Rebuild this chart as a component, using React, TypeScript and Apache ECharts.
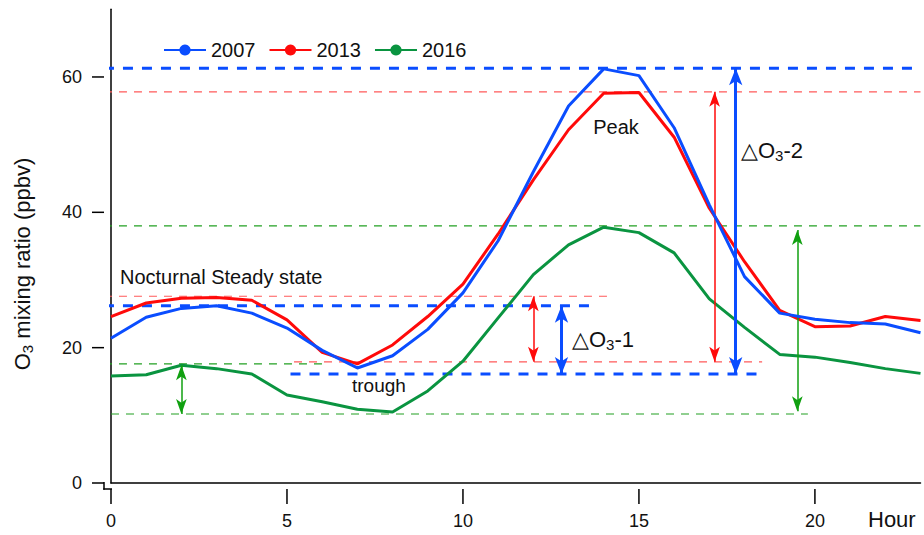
import React, { useEffect, useRef } from "react";
import * as echarts from "echarts";

const hours = [0, 1, 2, 3, 4, 5, 6, 7, 8, 9, 10, 11, 12, 13, 14, 15, 16, 17, 18, 19, 20, 21, 22, 23];
const o3_2007 = [21.4, 24.5, 25.8, 26.2, 25.1, 22.9, 19.6, 17.0, 18.8, 22.7, 28.1, 35.8, 46.0, 55.7, 61.2, 60.2, 52.5, 41.1, 30.5, 25.1, 24.2, 23.7, 23.5, 22.2];
const o3_2013 = [24.6, 26.6, 27.3, 27.4, 27.0, 24.1, 19.3, 17.6, 20.4, 24.6, 29.4, 36.8, 44.8, 52.2, 57.6, 57.7, 51.1, 40.6, 32.7, 25.5, 23.1, 23.2, 24.6, 24.0];
const o3_2016 = [15.8, 16.0, 17.4, 16.9, 16.1, 13.0, 12.0, 10.9, 10.5, 13.6, 18.0, 24.4, 30.8, 35.2, 37.8, 37.0, 34.0, 27.2, 23.0, 19.0, 18.6, 17.8, 16.9, 16.2];

const xTicks = [0, 5, 10, 15, 20];
const yTicks = [0, 20, 40, 60];

// reference levels [value, fromHour, toHour]
const levels2007 = [[61.3, -0.2, 23], [26.2, -0.2, 13.8], [16.1, 5.1, 18.5]];
const levels2013 = [[57.8, -0.2, 23], [27.6, -0.2, 14.2], [17.9, 5.2, 18.5]];
const levels2016 = [[38.0, -0.2, 23], [17.6, -0.2, 6.0], [10.2, 0.0, 19.8]];

// difference arrows [hour, top, bottom]
const arrows2007 = [[12.8, 26.2, 16.1], [17.75, 61.3, 16.1]];
const arrows2013 = [[12.0, 27.6, 17.9], [17.15, 57.8, 17.9]];
const arrows2016 = [[2.0, 17.4, 10.2], [19.5, 37.4, 10.6]];

const FONT = "'Liberation Sans', Arial, sans-serif";
const BLUE = "#0a4dff";
const RED = "#ff0a0a";
const GREEN = "#0a9440";
const X_OFF = 6;
const Y_OFF = 7;

function levelSeries(levels: number[][], color: string, width: number, dash: number[]) {
  return levels.map(([v, a, b], i) => ({
    name: "lvl-" + color + i,
    type: "line",
    data: [[a, v], [b, v]],
    symbol: "none",
    silent: true,
    clip: false,
    z: 2,
    lineStyle: { color, width, type: dash },
    emphasis: { disabled: true },
  }));
}

function arrowMarks(arrows: number[][], color: string, arrowW: number, headSize: number[]) {
  return {
    silent: true,
    animation: false,
    label: { show: false },
    emphasis: { disabled: true },
    symbol: ["arrow", "arrow"],
    symbolSize: headSize,
    lineStyle: { color, width: arrowW, type: "solid" },
    data: arrows.map(([h, t, bt]) => [{ coord: [h, t] }, { coord: [h, bt] }]),
  };
}

const tickFill = { fill: "#000" };

const subText = (x: number, y: number, label: string) => ({
  type: "text", x, y,
  style: {
    text: "{a|△O}{s|3}{a|" + label + "}", verticalAlign: "middle",
    rich: { a: { fontSize: 22, fontFamily: FONT, fill: "#111" }, s: { fontSize: 15, fontFamily: FONT, fill: "#111", padding: [10, 0, 0, 0] } },
  },
});

const texts: any[] = [
  {
    type: "text", x: 22, y: 264, rotation: Math.PI / 2,
    style: {
      text: "{a|O}{s|3}{a| mixing ratio (ppbv)}",
      align: "center", verticalAlign: "middle",
      rich: {
        a: { fontSize: 22, fontFamily: FONT, fill: "#111" },
        s: { fontSize: 15, fontFamily: FONT, fill: "#111", padding: [10, 0, 0, 0] },
      },
    },
  },
  { type: "text", x: 868, y: 519, style: { text: "Hour", fontSize: 22, fontFamily: FONT, fill: "#111", verticalAlign: "middle" } },
  { type: "text", x: 616, y: 127, style: { text: "Peak", fontSize: 20, fontFamily: FONT, fill: "#111", align: "center", verticalAlign: "middle" } },
  { type: "text", x: 120, y: 277, style: { text: "Nocturnal Steady state", fontSize: 20, fontFamily: FONT, fill: "#111", verticalAlign: "middle" } },
  { type: "text", x: 352, y: 385, style: { text: "trough", fontSize: 19, fontFamily: FONT, fill: "#111", verticalAlign: "middle" } },
  subText(572, 339, "-1"),
  subText(741, 150, "-2"),
];

export default function App() {
  const ref = useRef<HTMLDivElement>(null);
  useEffect(() => {
    if (!ref.current) return;
    const chart = echarts.init(ref.current, null, { renderer: "svg" });
    const mk = (vals: number[]) => hours.map((h, i) => [h, vals[i]]);
    chart.setOption({
      animation: false,
      backgroundColor: "#ffffff",
      textStyle: { fontFamily: FONT },
      grid: { left: 111, right: 3.5, top: 9.3, bottom: 52 },
      legend: {
        data: ["2007", "2013", "2016"],
        left: 158,
        top: 35,
        itemWidth: 42,
        itemHeight: 14,
        itemGap: 13,
        textStyle: { fontSize: 20, color: "#111", fontFamily: FONT },
      },
      xAxis: {
        type: "value",
        min: 0,
        max: 23,
        interval: 5,
        offset: X_OFF,
        axisLine: { show: true, lineStyle: { color: "#000", width: 1.5 } },
        axisTick: { show: false },
        axisLabel: { customValues: xTicks, fontSize: 18, color: "#111", margin: 23, fontFamily: FONT },
        splitLine: { show: false },
      },
      yAxis: {
        type: "value",
        min: 0,
        max: 70,
        interval: 20,
        offset: Y_OFF,
        axisLine: { show: true, lineStyle: { color: "#000", width: 1.5 } },
        axisTick: { show: false },
        axisLabel: { customValues: yTicks, fontSize: 18, color: "#111", margin: 22, fontFamily: FONT },
        splitLine: { show: false },
      },
      series: [
        {
          name: "2007", type: "line", data: mk(o3_2007), symbol: "circle", symbolSize: 12, showSymbol: false,
          color: BLUE, lineStyle: { width: 3, color: BLUE }, clip: false, z: 5,
          markLine: arrowMarks(arrows2007, BLUE, 3, [10, 17]),
        },
        {
          name: "2013", type: "line", data: mk(o3_2013), symbol: "circle", symbolSize: 12, showSymbol: false,
          color: RED, lineStyle: { width: 3, color: RED }, clip: false, z: 4,
          markLine: arrowMarks(arrows2013, RED, 1.5, [8, 15]),
        },
        {
          name: "2016", type: "line", data: mk(o3_2016), symbol: "circle", symbolSize: 12, showSymbol: false,
          color: GREEN, lineStyle: { width: 3, color: GREEN }, clip: false, z: 3,
          markLine: arrowMarks(arrows2016, "#10a010", 1.5, [8, 15]),
        },
        ...levelSeries(levels2007, BLUE, 3, [10, 9]),
        ...levelSeries(levels2013, "#ff5a5a", 1.2, [8, 7]),
        ...levelSeries(levels2016, "#22a022", 1.2, [8, 7]),
      ],
      graphic: texts,
    });

    // axis ticks placed through the chart's own scales
    const tickEls: any[] = [];
    const o = chart.convertToPixel({ gridIndex: 0 }, [0, 0]) as number[];
    xTicks.forEach((v) => {
      const p = chart.convertToPixel({ gridIndex: 0 }, [v, 0]) as number[];
      tickEls.push({ type: "rect", silent: true, shape: { x: p[0] - 0.75, y: p[1] + X_OFF, width: 1.5, height: 15 }, style: tickFill });
    });
    yTicks.forEach((v) => {
      const p = chart.convertToPixel({ gridIndex: 0 }, [0, v]) as number[];
      tickEls.push({ type: "rect", silent: true, shape: { x: p[0] - Y_OFF - 12, y: p[1] - 0.75, width: 12, height: 1.5 }, style: tickFill });
    });
    tickEls.push({ type: "rect", silent: true, shape: { x: o[0] - Y_OFF - 0.75, y: o[1] - 1, width: 1.5, height: X_OFF + 1.75 }, style: tickFill });
    tickEls.push({ type: "rect", silent: true, shape: { x: o[0] - Y_OFF - 0.75, y: o[1] + X_OFF - 0.75, width: Y_OFF + 1.75, height: 1.5 }, style: tickFill });
    chart.setOption({ graphic: [...texts, ...tickEls] });

    return () => chart.dispose();
  }, []);
  return <div ref={ref} style={{ width: 924, height: 535, position: "absolute", left: 0, top: 0 }} />;
}
